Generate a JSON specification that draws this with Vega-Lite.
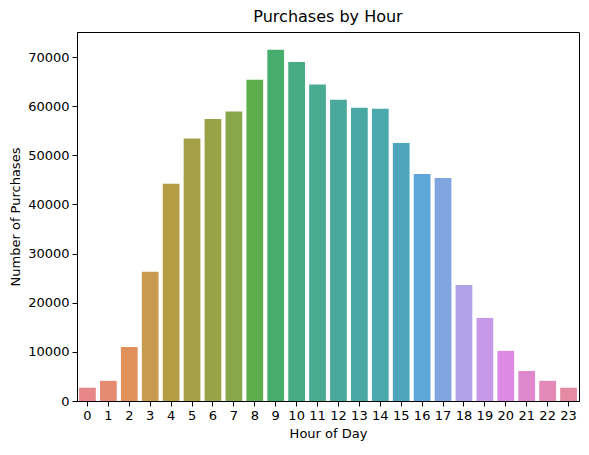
{
  "$schema": "https://vega.github.io/schema/vega-lite/v6.json",
  "width": 502,
  "height": 369,
  "autosize": {"type": "none"},
  "padding": {"left": 77, "top": 32, "right": 10, "bottom": 54},
  "title": {"text": "Purchases by Hour", "fontSize": 16, "font": "DejaVu Sans", "fontWeight": "normal", "color": "black", "offset": 7},
  "config": {
    "font": "DejaVu Sans",
    "view": {"stroke": "black", "strokeWidth": 1},
    "axis": {"grid": false, "domainColor": "black", "tickColor": "black", "labelColor": "black", "titleColor": "black", "labelFontSize": 13, "titleFontSize": 13, "titleFontWeight": "normal", "tickSize": 5, "labelPadding": 3, "titlePadding": 5}
  },
  "data": {
    "values": [
      {"hour": 0, "purchases": 2700, "c": "#e8878a"},
      {"hour": 1, "purchases": 4100, "c": "#e58b74"},
      {"hour": 2, "purchases": 11000, "c": "#e0905a"},
      {"hour": 3, "purchases": 26300, "c": "#c89a4d"},
      {"hour": 4, "purchases": 44200, "c": "#b59d45"},
      {"hour": 5, "purchases": 53400, "c": "#a6a046"},
      {"hour": 6, "purchases": 57400, "c": "#98a347"},
      {"hour": 7, "purchases": 58900, "c": "#88a64a"},
      {"hour": 8, "purchases": 65400, "c": "#5dae4c"},
      {"hour": 9, "purchases": 71500, "c": "#47ad6c"},
      {"hour": 10, "purchases": 69000, "c": "#47ac84"},
      {"hour": 11, "purchases": 64400, "c": "#48ab92"},
      {"hour": 12, "purchases": 61300, "c": "#49aa9c"},
      {"hour": 13, "purchases": 59700, "c": "#4aa9a4"},
      {"hour": 14, "purchases": 59500, "c": "#4ba8ac"},
      {"hour": 15, "purchases": 52500, "c": "#4ea6bd"},
      {"hour": 16, "purchases": 46200, "c": "#5ea6d9"},
      {"hour": 17, "purchases": 45400, "c": "#80a5df"},
      {"hour": 18, "purchases": 23600, "c": "#b1a2e8"},
      {"hour": 19, "purchases": 16900, "c": "#c899e8"},
      {"hour": 20, "purchases": 10200, "c": "#dd8ae4"},
      {"hour": 21, "purchases": 6100, "c": "#e088cd"},
      {"hour": 22, "purchases": 4100, "c": "#e38ab9"},
      {"hour": 23, "purchases": 2700, "c": "#e68aa3"}
    ]
  },
  "mark": {"type": "bar"},
  "encoding": {
    "x": {"field": "hour", "type": "ordinal", "title": "Hour of Day", "scale": {"paddingInner": 0.2, "paddingOuter": 0.1}, "axis": {"labelAngle": 0}},
    "y": {"field": "purchases", "type": "quantitative", "title": "Number of Purchases", "scale": {"domain": [0, 75100], "nice": false}, "axis": {"values": [0, 10000, 20000, 30000, 40000, 50000, 60000, 70000], "format": "d"}},
    "color": {"field": "c", "type": "nominal", "scale": null, "legend": null}
  }
}
